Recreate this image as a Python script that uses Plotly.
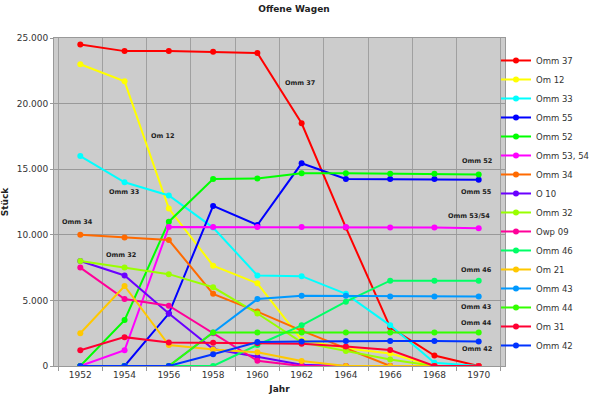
import plotly.graph_objects as go

years = ["1952", "1954", "1956", "1958", "1960", "1962", "1964", "1966", "1968", "1970"]

omm37 = [24500, 24000, 24000, 23950, 23850, 18500, 10550, 2950, 800, 0]
om12 = [23000, 21700, 12000, 7650, 6300, 2000, 1350, 950, 0, 0]
omm33 = [16000, 14000, 13000, 10550, 6900, 6850, 5500, 3100, 250, 0]
omm55 = [0, 0, 4000, 12200, 10750, 15450, 14250, 14250, 14250, 14200]
omm52 = [0, 3500, 11000, 14250, 14300, 14700, 14700, 14650, 14650, 14600]
omm53_54 = [0, 1200, 10600, 10600, 10600, 10600, 10600, 10550, 10550, 10500]
omm34 = [10000, 9800, 9600, 5500, 4150, 2700, 1350, 0, 0, 0]
o10 = [8000, 6900, 4000, 1300, 700, 100, 0, 0, 0, 0]
omm32 = [8000, 7500, 7000, 6000, 4000, 1800, 1150, 500, 0, 0]
owp09 = [7500, 5100, 4600, 2500, 400, 0, 0, 0, 0, 0]
omm46 = [0, 0, 0, 0, 1600, 3100, 4900, 6500, 6500, 6500]
om21 = [2500, 6100, 1600, 1250, 1050, 380, 0, 0, 0, 0]
omm43 = [0, 0, 0, 2550, 5100, 5350, 5350, 5300, 5300, 5300]
omm44 = [0, 0, 0, 2550, 2550, 2550, 2550, 2550, 2550, 2550]
om31 = [1200, 2200, 1800, 1780, 1730, 1700, 1480, 1220, 0, 0]
omm42 = [0, 0, 0, 900, 1820, 1860, 1900, 1900, 1900, 1860]

series_names = ["Omm 37", "Om 12", "Omm 33", "Omm 55", "Omm 52", "Omm 53, 54", "Omm 34",
                "O 10", "Omm 32", "Owp 09", "Omm 46", "Om 21", "Omm 43", "Omm 44", "Om 31", "Omm 42"]
series_values = [omm37, om12, omm33, omm55, omm52, omm53_54, omm34, o10, omm32, owp09,
                 omm46, om21, omm43, omm44, om31, omm42]
series_colors = ["#FF0000", "#FFFF00", "#00FFFF", "#0000FF", "#00FF00", "#FF00FF", "#FF6A00",
                 "#6A00FF", "#99FF00", "#FF0099", "#00FF66", "#FFC800", "#0099FF", "#33FF00",
                 "#FF0033", "#0033FF"]

label_texts = ["Omm 37", "Om 12", "Omm 33", "Omm 34", "Omm 32", "Omm 52", "Omm 55",
               "Omm 53/54", "Omm 46", "Omm 43", "Omm 44", "Omm 42"]
label_x = [4.97, 1.87, 0.99, -0.06, 0.93, 8.96, 8.96, 8.78, 8.95, 8.95, 8.95, 8.96]
label_y = [21560, 17530, 13230, 10955, 8490, 15650, 13300, 11410, 7316, 4530, 3312, 1274]

FONT = "DejaVu Sans"

fig = go.Figure()
for name, vals, col in zip(series_names, series_values, series_colors):
    fig.add_trace(go.Scatter(
        x=years, y=vals, name=name, mode="lines+markers",
        line=dict(color=col, width=2),
        marker=dict(color=col, size=6, symbol="circle"),
    ))

for t, xx, yy in zip(label_texts, label_x, label_y):
    fig.add_annotation(x=xx, y=yy, xref="x", yref="y", text="<b>%s</b>" % t,
                       showarrow=False, font=dict(family=FONT, size=6.5, color="#222222"))

fig.update_layout(
    width=600, height=399,
    margin=dict(l=54, r=95, t=38, b=33, autoexpand=False),
    paper_bgcolor="white",
    plot_bgcolor="#CCCCCC",
    separators=",.",
    title=dict(text="<b>Offene Wagen</b>", x=0.49, xanchor="center", y=0.977, yanchor="middle",
               yref="container", font=dict(family=FONT, size=9, color="#222222")),
    font=dict(family=FONT, size=9, color="#333333"),
    showlegend=True,
    legend=dict(x=0.98, xanchor="left", y=0.497, yanchor="middle", bgcolor="rgba(0,0,0,0)",
                font=dict(family=FONT, size=8.5, color="#333333"), borderwidth=0),
)

fig.update_xaxes(
    type="category", tickson="boundaries", showgrid=True, gridcolor="#A0A0A0", gridwidth=1,
    ticks="outside", ticklen=4, tickcolor="#999999",
    showline=True, linecolor="#999999", linewidth=1, mirror=True,
    tickfont=dict(family=FONT, size=9, color="#333333"),
    title=dict(text="<b>Jahr</b>", font=dict(family=FONT, size=9, color="#222222"), standoff=6),
)
fig.update_yaxes(
    range=[0, 25000], tickvals=[0, 5000, 10000, 15000, 20000, 25000], tickformat=",d",
    showgrid=True, gridcolor="#999999", gridwidth=1,
    ticks="outside", ticklen=3, tickcolor="#999999",
    showline=True, linecolor="#999999", linewidth=1, mirror=True, zeroline=False,
    tickfont=dict(family=FONT, size=9, color="#333333"),
    title=dict(text="<b>Stück</b>", font=dict(family=FONT, size=9, color="#222222"), standoff=8),
)

fig.write_html("out.html", config={"displayModeBar": False},
               post_script="document.body.style.margin='0';")
